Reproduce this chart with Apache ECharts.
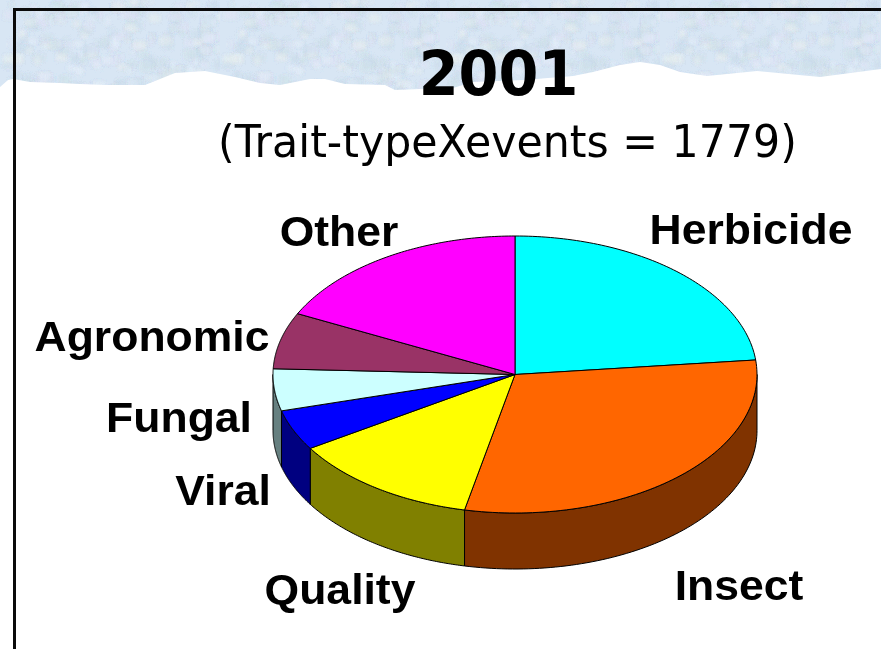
<!DOCTYPE html>
<html>
<head>
<meta charset="utf-8">
<style>html,body{margin:0;padding:0;background:#fff}#chart{width:881px;height:649px}</style>
<script src="https://cdn.jsdelivr.net/npm/echarts@6/dist/echarts.min.js"></script>
</head>
<body>
<div id="chart"></div>
<script>
// trait counts (they add up to 1779)
var categories = ['Herbicide', 'Insect', 'Quality', 'Viral', 'Fungal', 'Agronomic', 'Other'];
var values = [415, 534, 226, 84, 87, 117, 316];
var topColors = ['#00ffff', '#ff6600', '#ffff00', '#0000ff', '#ccffff', '#993366', '#ff00ff'];
var sideColors = ['#008080', '#803300', '#808000', '#000080', '#668080', '#4d1a33', '#800080'];

// pie geometry in pixels
var cx = 515, cy = 374.5, rx = 242, ry = 138.5, depth = 56;
var labelPos = [[751, 232], [739, 588], [340, 592], [223, 493], [179, 420], [152, 339], [339, 234]];

var total = values.reduce(function (a, b) { return a + b; }, 0);

function rim(t, dy) {
    return [cx + rx * Math.sin(t), cy - ry * Math.cos(t) + (dy || 0)];
}

function renderSlice(params, api) {
    var i = api.value(0);
    var before = 0;
    for (var k = 0; k < i; k++) before += values[k];
    var t0 = before / total * Math.PI * 2;
    var t1 = (before + api.value(1)) / total * Math.PI * 2;

    var top = [[cx, cy]], n = 80, j;
    for (j = 0; j <= n; j++) top.push(rim(t0 + (t1 - t0) * j / n));

    var children = [];
    // only the front half of the rim shows its side
    var s0 = Math.max(t0, Math.PI / 2), s1 = Math.min(t1, Math.PI * 1.5);
    if (s1 > s0) {
        var side = [];
        for (j = 0; j <= n; j++) side.push(rim(s0 + (s1 - s0) * j / n));
        for (j = n; j >= 0; j--) side.push(rim(s0 + (s1 - s0) * j / n, depth));
        children.push({
            type: 'polygon',
            shape: { points: side },
            style: { fill: sideColors[i], stroke: '#000', lineWidth: 1 }
        });
    }
    children.push({
        type: 'polygon',
        shape: { points: top },
        style: { fill: topColors[i], stroke: '#000', lineWidth: 1 }
    });
    children.push({
        type: 'text',
        x: labelPos[i][0],
        y: labelPos[i][1],
        scaleX: 1.06,
        style: {
            text: categories[i],
            fill: '#000',
            font: 'bold 42px "Liberation Sans", Arial, sans-serif',
            align: 'center',
            verticalAlign: 'middle'
        }
    });
    return { type: 'group', children: children };
}

// paper texture for the band at the top, soft blotches rather than specks
function makeTexture() {
    var c = document.createElement('canvas');
    c.width = 220; c.height = 160;
    var g = c.getContext('2d');
    g.fillStyle = '#d8e6f4';
    g.fillRect(0, 0, 220, 160);
    var seed = 12345;
    function next() { seed = (seed * 1103515 + 12345) % 2147483; return seed / 2147483; }
    var tints = ['#e2edf8', '#cfe0ef', '#e0e4f6', '#d0e2ec', '#e4edf2'];
    g.filter = 'blur(2px)';
    g.globalAlpha = 0.35;
    for (var k = 0; k < 1800; k++) {
        g.fillStyle = tints[k % tints.length];
        g.fillRect(next() * 220, next() * 160, 3 + next() * 9, 2 + next() * 6);
    }
    return c;
}

var tornEdge = [[0, 87], [8, 80], [13, 79], [30, 82], [60, 83], [80, 84], [105, 85], [145, 85], [175, 73], [205, 71],
    [235, 77], [260, 83], [280, 85], [310, 79], [325, 79], [345, 84], [385, 85], [395, 90], [420, 89], [453, 88],
    [473, 82], [523, 80], [573, 76], [593, 72], [620, 65], [640, 62], [660, 65], [680, 72], [707, 76], [757, 71],
    [820, 77], [881, 69], [881, 649], [0, 649]];

var chart = echarts.init(document.getElementById('chart'));
chart.setOption({
    animation: false,
    backgroundColor: '#fff',
    graphic: [
        { type: 'rect', z: 0, shape: { x: 0, y: 0, width: 881, height: 110 }, style: { fill: { image: makeTexture(), repeat: 'repeat' } } },
        { type: 'polygon', z: 1, shape: { points: tornEdge }, style: { fill: '#fff' } },
        { type: 'polyline', z: 2, shape: { points: [[14.5, 649], [14.5, 9.5], [881, 9.5]] }, style: { stroke: '#0a0a0a', lineWidth: 3, fill: 'none' } },
        { type: 'text', z: 3, x: 498.5, y: 79, scaleX: 0.925, style: { text: '2001', fill: '#000', font: 'bold 62px "DejaVu Sans", sans-serif', align: 'center', verticalAlign: 'middle' } },
        { type: 'text', z: 3, x: 507.5, y: 146, scaleX: 0.97, style: { text: '(Trait-typeXevents = 1779)', fill: '#000', font: '44px "DejaVu Sans", sans-serif', align: 'center', verticalAlign: 'middle' } }
    ],
    series: [{
        type: 'custom',
        coordinateSystem: 'none',
        z: 5,
        renderItem: renderSlice,
        data: values.map(function (v, i) { return [i, v]; })
    }]
});
</script>
</body>
</html>
